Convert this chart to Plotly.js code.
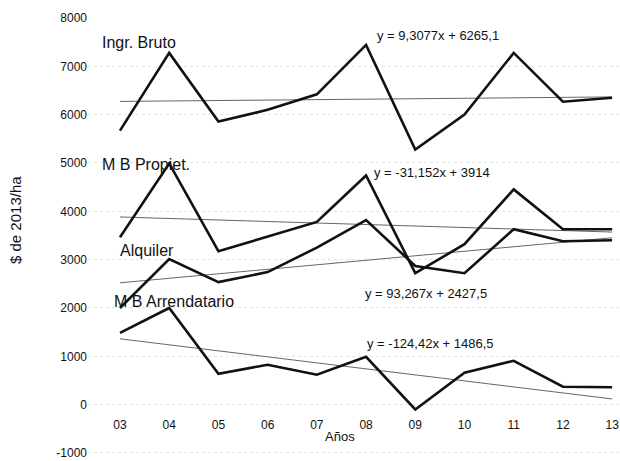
<!DOCTYPE html>
<html><head><meta charset="utf-8">
<script src="https://cdn.plot.ly/plotly-3.0.1.min.js"></script>
<style>html,body{margin:0;padding:0;background:#fff}</style>
</head><body><div id="c" style="width:620px;height:461px"></div>
<script>
const years = ["03","04","05","06","07","08","09","10","11","12","13"];
const ingrBruto = [5670,7278,5856,6100,6420,7443,5278,6000,7278,6268,6350];
const mbPropiet = [3464,4990,3175,3480,3780,4742,2720,3320,4454,3630,3630];
const alquiler = [2000,3010,2536,2742,3250,3820,2870,2720,3630,3380,3400];
const mbArrend = [1485,2000,640,825,620,990,-100,660,907,371,360];
const trendYears = ["03","13"];
const trendIngr = [6274,6367];
const trendProp = [3883,3571];
const trendAlq = [2521,3453];
const trendArr = [1362,118];
const seriesLabels = ["Ingr. Bruto","M B Propiet.","Alquiler","M B Arrendatario"];
const equations = ["y = 9,3077x + 6265,1","y = -31,152x + 3914","y = 93,267x + 2427,5","y = -124,42x + 1486,5"];
const yTicks = [-1000,0,1000,2000,3000,4000,5000,6000,7000,8000];

const FONT = 'Liberation Sans, Arial, sans-serif';
const lineStyle = {color:'#111', width:2.6};
const trendStyle = {color:'#666', width:1};
const traces = [];
[trendIngr,trendProp,trendAlq,trendArr].forEach(t=>{
  traces.push({x:trendYears,y:t,mode:'lines',line:trendStyle,hoverinfo:'skip'});
});
[ingrBruto,mbPropiet,alquiler,mbArrend].forEach(s=>{
  traces.push({x:years,y:s,mode:'lines',line:lineStyle});
});

const lblFont = {family:FONT, size:16, color:'#111'};
const eqFont = {family:FONT, size:13, color:'#111'};
const lblPos = [[-0.41,7485],[-0.41,4970],[-0.04,3196],[-0.16,2144]];
const eqPos = [[5.18,7629],[5.12,4804],[4.94,2309],[4.98,1258]];
const annotations = [];
seriesLabels.forEach((t,i)=>annotations.push({x:lblPos[i][0],y:lblPos[i][1],xref:'x',yref:'y',text:t,showarrow:false,xanchor:'left',yanchor:'middle',font:lblFont}));
equations.forEach((t,i)=>annotations.push({x:eqPos[i][0],y:eqPos[i][1],xref:'x',yref:'y',text:t,showarrow:false,xanchor:'left',yanchor:'middle',font:eqFont}));
annotations.push({x:4.47,y:-660,xref:'x',yref:'y',text:'Años',showarrow:false,xanchor:'center',yanchor:'middle',font:{family:FONT,size:13,color:'#111'}});

const mT = 18, mL = 88, W = 620, H = 461;
annotations.push({x:(15-mL)/(W-mL),y:(H-220)/(H-mT),xref:'paper',yref:'paper',text:'$ de 2013/ha',textangle:-90,showarrow:false,xanchor:'center',yanchor:'middle',font:{family:FONT,size:15,color:'#111'}});

const yMin = -1166;
const layout = {
  width:W,height:H,
  margin:{l:mL,r:0,t:mT,b:0},
  paper_bgcolor:'#fff',plot_bgcolor:'#fff',
  showlegend:false,
  xaxis:{type:'category',categoryorder:'array',categoryarray:years,range:[-0.65,10.16],anchor:'free',position:(0-yMin)/(8000-yMin),
    showgrid:false,zeroline:false,showline:false,
    ticks:'outside',ticklen:9,tickcolor:'rgba(0,0,0,0)',
    tickfont:{family:FONT,size:12,color:'#111'}},
  yaxis:{range:[yMin,8000],tickvals:yTicks,ticktext:yTicks.map(String),ticklabeloverflow:'allow',
    showgrid:true,gridcolor:'#e4e4e4',griddash:'dot',zeroline:false,showline:false,
    tickfont:{family:FONT,size:12,color:'#111'}},
  annotations:annotations
};
Plotly.newPlot('c',traces,layout,{displayModeBar:false,staticPlot:true});
</script></body></html>
